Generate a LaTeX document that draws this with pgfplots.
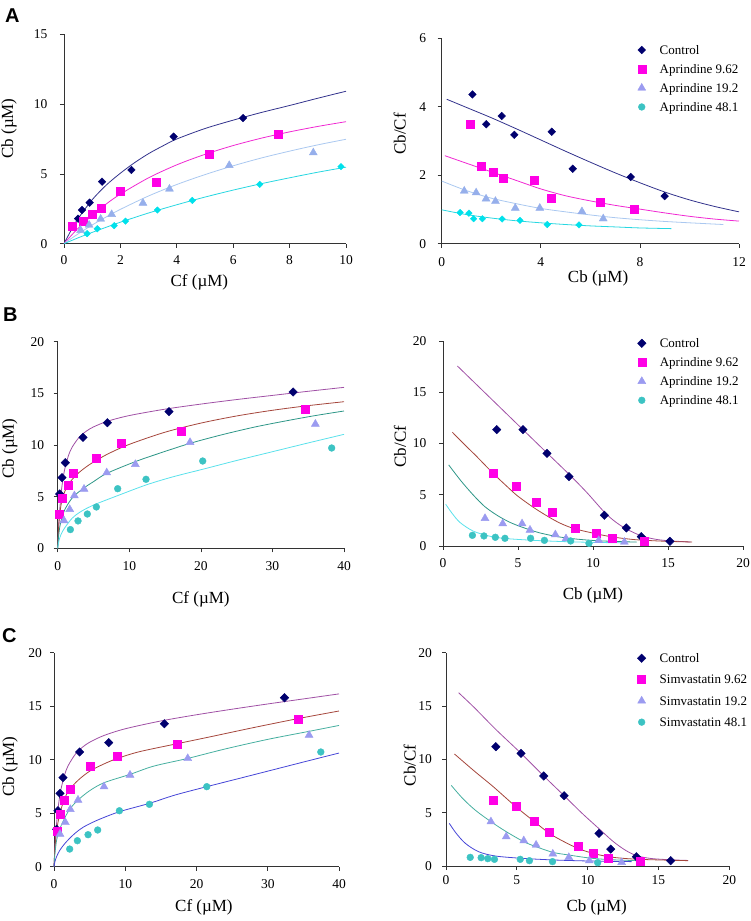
\documentclass[border=0pt]{standalone}
\usepackage{fontspec}
\setmainfont{Liberation Serif}
\newfontfamily\sansbold{Liberation Sans}
\usepackage{pgfplots}
\pgfplotsset{compat=1.18}

\newcommand{\tickf}{\fontsize{13.5}{16}\selectfont}
\newcommand{\labf}{\fontsize{17}{20}\selectfont}
\newcommand{\legf}{\fontsize{13}{15}\selectfont}

\definecolor{cnavy}{RGB}{0,0,110}
\definecolor{cmag}{RGB}{255,0,230}
\definecolor{ctriA}{RGB}{150,175,235}
\definecolor{ctri}{RGB}{155,155,240}
\definecolor{ccyanA}{RGB}{0,225,235}
\definecolor{cteal}{RGB}{60,195,195}
\definecolor{lnavy}{RGB}{50,50,140}
\definecolor{lmag}{RGB}{240,40,210}
\definecolor{llblue}{RGB}{170,200,240}
\definecolor{lcyan}{RGB}{40,215,225}
\definecolor{lpurp}{RGB}{160,80,165}
\definecolor{lbrown}{RGB}{165,70,60}
\definecolor{lteal}{RGB}{45,150,135}
\definecolor{lcyanB}{RGB}{90,225,235}
\definecolor{lblue}{RGB}{70,70,215}
\definecolor{ltealC}{RGB}{70,175,160}

\pgfplotsset{
 base/.style={scale only axis, axis lines=left,
   axis line style={-, line width=0.7pt, black!80},
   every tick/.style={line width=0.7pt, black!80},
   tick align=outside, major tick length=4pt, clip=false,
   ticklabel style={font=\tickf},
   /pgf/number format/assume math mode=true},
 xlab/.style 2 args={every axis x label/.style={at={(axis description cs:#1,#2)}, anchor=base, inner sep=0pt, font=\labf}},
 ylab/.style 2 args={every axis y label/.style={at={(axis description cs:#1,#2)}, rotate=90, anchor=base, inner sep=0pt, font=\labf}},
 leg/.style n args={3}{legend style={at={(axis description cs:#1,#2)}, anchor=north west, draw=none, fill=none, inner sep=0pt, outer sep=0pt, row sep=#3, column sep=13pt, font=\legf, nodes={inner sep=0pt, text height=9pt, text depth=3pt}, cells={anchor=west}},
   legend image code/.code={\path[draw=none, fill=none] (-5pt,-4pt) rectangle (5pt,4pt); \draw[##1] plot coordinates {(0pt,1.3pt)};}},
 cur/.style={no marks, smooth, tension=0.5, line width=0.8pt},
 mctl/.style={only marks, mark=square*, mark size=#1, mark options={rotate=45, fill=cnavy, draw=cnavy}},
 mmag/.style={only marks, mark=square*, mark size=4pt, mark options={fill=cmag, draw=cmag}},
 mtri/.style={only marks, mark=triangle*, mark size=4.6pt, mark options={fill=#1, draw=#1}},
 mcyd/.style={only marks, mark=square*, mark size=2.3pt, mark options={rotate=45, fill=ccyanA, draw=ccyanA}},
 mcir/.style={only marks, mark=*, mark size=3.4pt, mark options={fill=cteal, draw=cteal}},
}

\begin{document}
\begin{tikzpicture}
\path[use as bounding box] (0,0) rectangle (751pt,921pt);

% ---------------- A left ----------------
\begin{axis}[base, at={(64pt,677.3pt)}, anchor=south west, width=282pt, height=209.4pt,
  xmin=0, xmax=10, ymin=0, ymax=15, xtick={0,2,...,10}, ytick={0,5,10,15},
  xticklabel style={yshift=-4pt}, yticklabel style={xshift=-9pt},
  xlab={0.48}{-0.205}, ylab={-0.18}{0.55},
  xlabel={Cf (µM)}, ylabel={Cb (µM)}]
\addplot[cur, lnavy] coordinates {(0,0)(0.25,0.95)(0.5,1.8)(1,3.15)(1.5,4.2)(2,5.05)(2.5,5.8)(3,6.45)(3.5,7.0)(4,7.5)(5,8.25)(6,8.85)(7,9.4)(8,9.9)(9,10.42)(10,10.92)};
\addplot[cur, lmag] coordinates {(0,0)(0.25,0.57)(0.5,1.10)(1,2.04)(1.5,2.85)(2,3.55)(3,4.72)(4,5.65)(5,6.40)(6,7.03)(7,7.56)(8,8.01)(9,8.40)(10,8.74)};
\addplot[cur, llblue] coordinates {(0,0)(0.25,0.36)(0.5,0.70)(1,1.34)(1.5,1.92)(2,2.46)(3,3.42)(4,4.24)(5,4.95)(6,5.58)(7,6.14)(8,6.63)(9,7.08)(10,7.48)};
\addplot[cur, lcyan] coordinates {(0,0)(0.25,0.21)(0.5,0.42)(1,0.81)(1.5,1.18)(2,1.54)(3,2.20)(4,2.79)(5,3.34)(6,3.84)(7,4.30)(8,4.72)(9,5.12)(10,5.48)};
\addplot[mctl=2.7pt] coordinates {(0.30,1.22)(0.50,1.79)(0.64,2.41)(0.91,2.94)(1.35,4.44)(2.39,5.28)(3.89,7.67)(6.35,9.0)};
\addplot[mmag] coordinates {(0.30,1.22)(0.69,1.60)(1.0,2.10)(1.32,2.56)(2.0,3.77)(3.28,4.42)(5.14,6.40)(7.58,7.83)};
\addplot[mtri=ctriA] coordinates {(0.59,0.96)(0.89,1.34)(1.30,1.77)(1.69,2.10)(2.80,2.91)(3.74,3.92)(5.86,5.61)(8.84,6.52)};
\addplot[mcyd] coordinates {(0.82,0.72)(1.18,1.07)(1.78,1.29)(2.18,1.62)(3.31,2.41)(4.55,3.10)(6.94,4.25)(9.82,5.52)};
\end{axis}

% ---------------- A right ----------------
\begin{axis}[base, at={(441.7pt,677.3pt)}, anchor=south west, width=297.3pt, height=205.4pt,
  xmin=0, xmax=12, ymin=0, ymax=6, xtick={0,4,8,12}, ytick={0,2,4,6},
  xticklabel style={yshift=-6pt}, yticklabel style={xshift=-8pt},
  xlab={0.526}{-0.191}, ylab={-0.121}{0.534},
  xlabel={Cb (µM)}, ylabel={Cb/Cf}, leg={0.656}{0.966}{7pt}]
\addlegendimage{color=cnavy, mark=square*, mark size=2.7pt, mark options={rotate=45, fill=cnavy, draw=cnavy}}
\addlegendimage{color=cmag, mark=square*, mark size=4pt, mark options={fill=cmag, draw=cmag}}
\addlegendimage{color=ctri, mark=triangle*, mark size=4.6pt, mark options={fill=ctri, draw=ctri}}
\addlegendimage{color=cteal, mark=*, mark size=3.4pt, mark options={fill=cteal, draw=cteal}}
\addplot[cur, lnavy] coordinates {(0.2,4.22)(1,3.98)(2,3.68)(3,3.36)(4,3.03)(5,2.70)(6,2.38)(7,2.07)(8,1.78)(9,1.51)(10,1.28)(11,1.09)(12,0.93)};
\addplot[cur, lmag] coordinates {(0.13,2.57)(1,2.35)(2,2.1)(3,1.85)(4,1.6)(5,1.4)(6,1.25)(7,1.12)(8,1.01)(9,0.9)(10,0.8)(11,0.72)(12,0.66)};
\addplot[cur, llblue] coordinates {(0,1.83)(1,1.55)(2,1.33)(3,1.17)(4,1.03)(5,0.93)(6,0.84)(7,0.76)(8,0.70)(9,0.65)(10,0.61)(11.37,0.56)};
\addplot[cur, lcyan] coordinates {(0,0.99)(1,0.85)(2,0.75)(3,0.67)(4,0.61)(5,0.56)(6,0.52)(7,0.49)(8,0.46)(9.27,0.44)};
\addplot[mctl=2.7pt] coordinates {(1.24,4.36)(1.80,3.49)(2.42,3.73)(2.93,3.18)(4.44,3.27)(5.29,2.19)(7.63,1.95)(9.0,1.39)};
\addplot[mmag] coordinates {(1.17,3.48)(1.60,2.25)(2.07,2.10)(2.49,1.90)(3.73,1.86)(4.40,1.33)(6.38,1.22)(7.76,1.02)};
\addplot[mtri=ctriA] coordinates {(0.91,1.54)(1.39,1.49)(1.79,1.31)(2.17,1.24)(2.97,1.04)(3.96,1.04)(5.66,0.94)(6.52,0.73)};
\addplot[mcyd] coordinates {(0.74,0.91)(1.10,0.89)(1.29,0.73)(1.64,0.73)(2.44,0.72)(3.16,0.68)(4.26,0.56)(5.54,0.55)};
\legend{Control, Aprindine 9.62, Aprindine 19.2, Aprindine 48.1}
\end{axis}

% ---------------- B left ----------------
\begin{axis}[base, at={(57.7pt,372.7pt)}, anchor=south west, width=286.3pt, height=206.6pt,
  xmin=0, xmax=40, ymin=0, ymax=20, xtick={0,10,...,40}, ytick={0,5,...,20},
  xticklabel style={yshift=-6pt}, yticklabel style={xshift=-6pt},
  xlab={0.5}{-0.266}, ylab={-0.153}{0.483},
  xlabel={Cf (µM)}, ylabel={Cb (µM)}]
\addplot[cur, lpurp] coordinates {(0,0)(0.1,1.63)(0.25,3.44)(0.5,5.45)(0.75,6.78)(1,7.72)(1.5,8.97)(2,9.77)(3,10.75)(4,11.34)(5,11.75)(7,12.31)(10,12.85)(15,13.47)(20,13.96)(25,14.40)(30,14.80)(35,15.20)(40,15.58)};
\addplot[cur, lbrown] coordinates {(0,0)(0.1,1.68)(0.25,3.09)(0.5,4.33)(0.75,5.04)(1,5.52)(1.5,6.18)(2,6.65)(3,7.35)(4,7.89)(5,8.35)(7,9.13)(10,10.06)(15,11.24)(20,12.12)(25,12.81)(30,13.36)(35,13.81)(40,14.19)};
\addplot[cur, lteal] coordinates {(0,0)(0.1,1.0)(0.3,2.1)(0.6,3.0)(1.0,3.75)(1.68,4.55)(2.33,5.1)(3.68,5.85)(5,6.45)(6.85,7.25)(10.85,8.39)(14,9.15)(18.49,10.16)(23,11.0)(27.6,11.75)(32,12.35)(36,12.85)(40,13.29)};
\addplot[cur, lcyanB] coordinates {(0,0)(0.2,0.8)(0.5,1.4)(1,2.0)(2,2.9)(3,3.45)(4,3.85)(5.4,4.3)(8.38,5.1)(12.34,6.13)(16,6.9)(20.26,7.65)(25,8.5)(30,9.35)(35,10.2)(40,11.03)};
\addplot[mctl=3pt] coordinates {(0.28,5.26)(0.6,6.84)(1.07,8.29)(3.54,10.74)(6.94,12.16)(15.55,13.23)(32.9,15.13)};
\addplot[mmag] coordinates {(0.23,3.29)(0.65,4.84)(1.40,6.13)(2.19,7.26)(5.40,8.77)(8.85,10.16)(17.32,11.32)(34.55,13.45)};
\addplot[mtri=ctri] coordinates {(0.88,2.68)(1.68,3.77)(2.33,5.10)(3.68,5.74)(6.85,7.32)(10.85,8.13)(18.49,10.26)(36.0,12.03)};
\addplot[mcir] coordinates {(1.77,1.81)(2.84,2.65)(4.14,3.32)(5.40,4.0)(8.38,5.77)(12.34,6.68)(20.26,8.45)(38.28,9.71)};
\end{axis}

% ---------------- B right ----------------
\begin{axis}[base, at={(443pt,375pt)}, anchor=south west, width=300pt, height=205pt,
  xmin=0, xmax=20, ymin=0, ymax=20, xtick={0,5,...,20}, ytick={0,5,...,20},
  xticklabel style={yshift=-5pt}, yticklabel style={xshift=-9pt},
  xlab={0.5}{-0.263}, ylab={-0.124}{0.484},
  xlabel={Cb (µM)}, ylabel={Cb/Cf}, leg={0.646}{1.0117}{7pt}]
\addlegendimage{color=cnavy, mark=square*, mark size=3pt, mark options={rotate=45, fill=cnavy, draw=cnavy}}
\addlegendimage{color=cmag, mark=square*, mark size=4pt, mark options={fill=cmag, draw=cmag}}
\addlegendimage{color=ctri, mark=triangle*, mark size=4.6pt, mark options={fill=ctri, draw=ctri}}
\addlegendimage{color=cteal, mark=*, mark size=3.4pt, mark options={fill=cteal, draw=cteal}}
\addplot[cur, lpurp] coordinates {(0.96,17.56)(2,16.08)(3.5,13.95)(5.33,11.35)(6.93,9.08)(8.47,6.9)(9.6,5.2)(10.76,3.3)(11.5,2.35)(12.24,1.65)(13.24,0.98)(14.2,0.65)(15.13,0.5)(16.5,0.39)};
\addplot[cur, lbrown] coordinates {(0.62,11.1)(1.5,9.8)(2.2,8.8)(3.34,7.09)(4.2,5.9)(5.0,4.85)(6.2,3.6)(7.3,2.62)(8.0,2.1)(8.8,1.67)(10.18,1.2)(11.3,0.88)(12.5,0.66)(13.4,0.56)(15,0.45)(16.6,0.39)};
\addplot[cur, lteal] coordinates {(0.38,7.91)(1.2,6.35)(2.0,5.0)(2.78,3.85)(3.6,3.0)(4.4,2.35)(5.23,1.86)(6.4,1.3)(7.68,0.9)(9,0.66)(10.5,0.5)(12.9,0.38)};
\addplot[cur, lcyanB] coordinates {(0.18,4.08)(0.6,3.2)(1.13,2.3)(2.02,1.45)(3.13,0.95)(4.24,0.72)(6.47,0.52)(8.69,0.4)(10.9,0.33)(12.2,0.3)};
\addplot[mctl=3pt] coordinates {(3.58,11.35)(5.33,11.35)(6.93,9.04)(8.4,6.76)(10.76,3.0)(12.22,1.76)(13.22,0.91)(15.13,0.46)};
\addplot[mmag] coordinates {(3.36,7.06)(4.91,5.82)(6.2,4.23)(7.31,3.25)(8.82,1.69)(10.18,1.20)(11.31,0.72)(13.42,0.42)};
\addplot[mtri=ctri] coordinates {(2.8,2.70)(3.98,2.18)(5.27,2.18)(5.8,1.56)(7.49,1.11)(8.2,0.72)(10.38,0.55)(12.09,0.39)};
\addplot[mcir] coordinates {(1.96,1.04)(2.73,0.98)(3.49,0.85)(4.13,0.75)(5.84,0.75)(6.76,0.55)(8.51,0.49)(9.73,0.26)};
\legend{Control, Aprindine 9.62, Aprindine 19.2, Aprindine 48.1}
\end{axis}

% ---------------- C left ----------------
\begin{axis}[base, at={(54pt,54.3pt)}, anchor=south west, width=285pt, height=214pt,
  xmin=0, xmax=40, ymin=0, ymax=20, xtick={0,10,...,40}, ytick={0,5,...,20},
  xticklabel style={yshift=-5pt}, yticklabel style={xshift=-4.5pt},
  xlab={0.526}{-0.21}, ylab={-0.14}{0.468},
  xlabel={Cf (µM)}, ylabel={Cb (µM)}]
\addplot[cur, lpurp] coordinates {(0,0)(0.1,1.45)(0.25,3.12)(0.5,5.04)(0.75,6.35)(1,7.31)(1.5,8.61)(2,9.46)(3,10.52)(4,11.17)(5,11.63)(7,12.26)(10,12.89)(15,13.62)(20,14.2)(25,14.72)(30,15.21)(35,15.68)(40,16.15)};
\addplot[cur, lbrown] coordinates {(0,0)(0.1,1.4)(0.25,2.6)(0.47,3.8)(0.84,5.0)(1.5,6.4)(2.29,7.3)(3.5,8.15)(5.06,8.95)(7,9.6)(8.9,10.12)(12,10.75)(17.32,11.5)(22,12.15)(28,13.0)(34.32,13.85)(40,14.55)};
\addplot[cur, ltealC] coordinates {(0,0)(0.1,1.0)(0.37,2.49)(0.84,3.58)(1.59,4.67)(2.29,5.45)(3.37,6.23)(5,7.1)(7.02,7.85)(10.67,8.63)(14,9.4)(18.77,10.12)(24,11.0)(30,11.9)(35.8,12.65)(40,13.2)};
\addplot[cur, lblue] coordinates {(0,0)(0.14,0.5)(0.4,1.0)(0.84,1.56)(1.5,2.15)(2.2,2.65)(3,3.15)(4.12,3.7)(6.13,4.36)(9.18,5.14)(13.39,5.92)(17,6.7)(21.44,7.48)(26,8.25)(31,9.1)(36,9.95)(40,10.62)};
\addplot[mctl=3pt] coordinates {(0.37,3.49)(0.56,5.23)(0.84,6.85)(1.26,8.32)(3.6,10.72)(7.68,11.59)(15.5,13.36)(32.35,15.79)};
\addplot[mmag] coordinates {(0.47,3.33)(0.84,4.89)(1.5,6.23)(2.29,7.26)(5.06,9.35)(8.9,10.34)(17.32,11.43)(34.32,13.77)};
\addplot[mtri=ctri] coordinates {(0.84,3.05)(1.59,4.14)(2.29,5.36)(3.37,6.23)(7.02,7.48)(10.67,8.57)(18.77,10.12)(35.8,12.3)};
\addplot[mcir] coordinates {(2.2,1.65)(3.28,2.43)(4.78,2.99)(6.13,3.43)(9.18,5.23)(13.39,5.83)(21.44,7.48)(37.45,10.72)};
\end{axis}

% ---------------- C right ----------------
\begin{axis}[base, at={(446pt,55pt)}, anchor=south west, width=283.3pt, height=213.3pt,
  xmin=0, xmax=20, ymin=0, ymax=20, xtick={0,5,...,20}, ytick={0,5,...,20},
  xticklabel style={yshift=-2pt}, yticklabel style={xshift=-6.5pt},
  xlab={0.532}{-0.214}, ylab={-0.107}{0.471},
  xlabel={Cb (µM)}, ylabel={Cb/Cf}, leg={0.673}{0.996}{9.3pt}]
\addlegendimage{color=cnavy, mark=square*, mark size=3pt, mark options={rotate=45, fill=cnavy, draw=cnavy}}
\addlegendimage{color=cmag, mark=square*, mark size=4pt, mark options={fill=cmag, draw=cmag}}
\addlegendimage{color=ctri, mark=triangle*, mark size=4.6pt, mark options={fill=ctri, draw=ctri}}
\addlegendimage{color=cteal, mark=*, mark size=3.4pt, mark options={fill=cteal, draw=cteal}}
\addplot[cur, lpurp] coordinates {(0.89,16.25)(2,14.85)(3.52,12.8)(5.3,10.56)(6.9,8.44)(8.34,6.59)(9.6,4.95)(10.8,3.5)(11.8,2.3)(12.7,1.45)(13.5,0.95)(14.5,0.7)(15.9,0.58)(17.1,0.52)};
\addplot[cur, lbrown] coordinates {(0.6,10.5)(2,8.9)(3.35,7.42)(4.93,5.56)(6.2,4.2)(7.3,3.06)(8.3,2.3)(9.35,1.63)(10.36,1.19)(11.46,0.875)(12.5,0.72)(13.74,0.62)(15.5,0.55)(17.1,0.5)};
\addplot[cur, ltealC] coordinates {(0.37,7.56)(1.2,6.3)(2.1,5.2)(3.17,4.16)(4.25,3.22)(5.49,2.28)(6.36,1.81)(7.54,1.28)(8.67,1.03)(10.12,0.75)(11.5,0.6)(13.5,0.5)};
\addplot[cur, lblue] coordinates {(0.23,4.0)(0.7,3.1)(1.36,2.13)(2.3,1.34)(3.47,0.94)(5.35,0.72)(7.7,0.56)(10.05,0.47)(13.1,0.41)};
\addplot[mctl=3pt] coordinates {(3.52,11.19)(5.3,10.56)(6.9,8.44)(8.34,6.59)(10.8,3.06)(11.63,1.59)(13.44,0.875)(15.86,0.5)};
\addplot[mmag] coordinates {(3.35,6.13)(4.93,5.63)(6.2,4.22)(7.3,3.16)(9.35,1.88)(10.36,1.19)(11.46,0.69)(13.74,0.44)};
\addplot[mtri=ctri] coordinates {(3.17,4.16)(4.25,2.75)(5.49,2.38)(6.36,1.97)(7.54,1.13)(8.67,0.81)(10.12,0.5)(12.4,0.34)};
\addplot[mcir] coordinates {(1.71,0.81)(2.48,0.78)(2.95,0.69)(3.42,0.625)(5.24,0.625)(5.89,0.5)(7.52,0.41)(10.71,0.31)};
\legend{Control, Simvastatin 9.62, Simvastatin 19.2, Simvastatin 48.1}
\end{axis}

\node[anchor=base west, inner sep=0pt, font=\sansbold\bfseries\fontsize{20}{24}\selectfont] at (5pt,898pt) {A};
\node[anchor=base west, inner sep=0pt, font=\sansbold\bfseries\fontsize{20}{24}\selectfont] at (3pt,599pt) {B};
\node[anchor=base west, inner sep=0pt, font=\sansbold\bfseries\fontsize{20}{24}\selectfont] at (2pt,278pt) {C};
\end{tikzpicture}
\end{document}
